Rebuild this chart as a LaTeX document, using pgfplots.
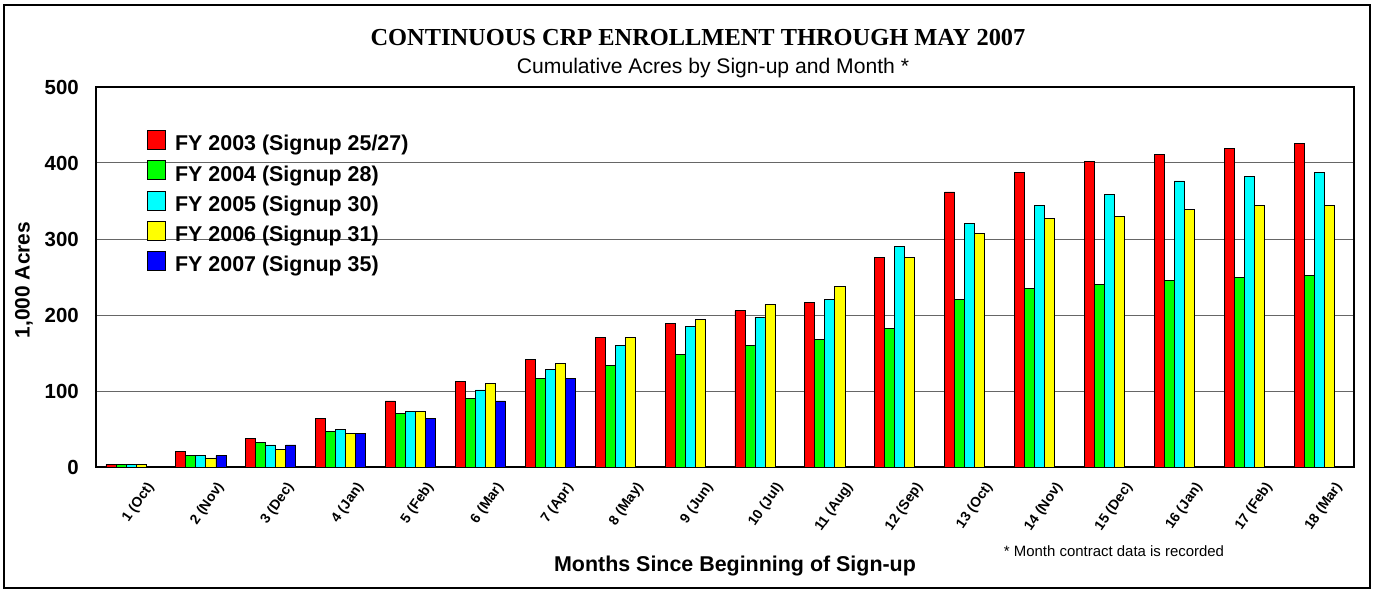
\documentclass[border=0pt]{standalone}
\usepackage{pgfplots}
\pgfplotsset{compat=1.18}
\usepackage{fontspec}
\setmainfont{Liberation Sans}
\newfontfamily\timesfont{Liberation Serif}
\definecolor{cRed}{HTML}{FF0000}
\definecolor{cGreen}{HTML}{00FF00}
\definecolor{cCyan}{HTML}{00FFFF}
\definecolor{cYellow}{HTML}{FFFF00}
\definecolor{cBlue}{HTML}{0000FF}
\begin{document}
\begin{tikzpicture}
\path[use as bounding box] (-96bp,-123bp) rectangle (1280bp,467bp);
\begin{axis}[
  at={(0,0)}, anchor=south west,
  width=1258bp, height=380bp, scale only axis,
  xmin=0.5, xmax=18.5, ymin=0, ymax=500,
  ybar, bar width=0.1433,
  xtick={1,...,18},
  xticklabels={1 (Oct),2 (Nov),3 (Dec),4 (Jan),5 (Feb),6 (Mar),7 (Apr),8 (May),9 (Jun),10 (Jul),11 (Aug),12 (Sep),13 (Oct),14 (Nov),15 (Dec),16 (Jan),17 (Feb),18 (Mar)},
  ytick={0,100,...,500},
  major tick length=0pt,
  /pgf/number format/assume math mode=true,
  ymajorgrids,
  grid style={black!60, line width=1pt},
  axis line style={black, line width=1.2pt},
  xticklabel style={font=\bfseries\fontsize{14}{14}\selectfont, xshift=25.7bp, yshift=-21.4bp, rotate=55, anchor=south east, inner sep=0pt},
  yticklabel style={font=\bfseries\fontsize{20.5}{20.5}\selectfont, anchor=east, inner sep=0pt, xshift=-17bp},
  every axis plot/.append style={draw=black, line width=0.7pt},
  legend style={at={(0.0405,0.886)}, anchor=north west, draw=none, fill=none,
    inner sep=0pt, outer sep=0pt, row sep=4bp, column sep=8bp,
    font=\bfseries\fontsize{21.5}{24}\selectfont,
    nodes={text height=15bp, text depth=4.5bp, inner sep=1bp}},
  legend cell align=left,
  legend image code/.code={\draw[#1, draw=black, line width=0.7pt] (0bp,-4bp) rectangle (18.5bp,15bp);},
]
\addplot[fill=cRed, bar shift=-0.2866] coordinates {
(1,3) (2,21) (3,38) (4,64) (5,87) (6,113) (7,142) (8,171) (9,188.5) (10,205.5) (11,217) (12,275.5) (13,362) (14,388) (15,402.5) (16,411) (17,419.5) (18,425.5)};
\addlegendentry{FY 2003 (Signup 25/27)}
\addplot[fill=cGreen, bar shift=-0.1433] coordinates {
(1,3) (2,15) (3,32) (4,47) (5,70) (6,90) (7,116.5) (8,133.5) (9,148) (10,159.5) (11,168) (12,182) (13,220) (14,234.5) (15,240) (16,246) (17,249) (18,252)};
\addlegendentry{FY 2004 (Signup 28)}
\addplot[fill=cCyan, bar shift=0] coordinates {
(1,3) (2,15) (3,29) (4,49) (5,73) (6,101.5) (7,128) (8,159.5) (9,185.5) (10,197) (11,220) (12,290) (13,321) (14,344.5) (15,359) (16,376.5) (17,382) (18,388)};
\addlegendentry{FY 2005 (Signup 30)}
\addplot[fill=cYellow, bar shift=0.1433] coordinates {
(1,3) (2,12) (3,23) (4,44) (5,73) (6,110) (7,136) (8,171) (9,194) (10,214) (11,238) (12,275.5) (13,307) (14,327) (15,330) (16,339) (17,344.5) (18,344.5)};
\addlegendentry{FY 2006 (Signup 31)}
\addplot[fill=cBlue, bar shift=0.2866] coordinates {
(2,15) (3,29) (4,44) (5,64) (6,87) (7,116.5)};
\addlegendentry{FY 2007 (Signup 35)}
\end{axis}
\draw[line width=1.5pt] (-92bp,-121bp) rectangle (1274bp,462bp);
\node[anchor=base, font=\timesfont\bfseries\fontsize{24.5}{24.5}\selectfont] at (602bp,421bp) {CONTINUOUS CRP ENROLLMENT THROUGH MAY 2007};
\node[anchor=base, font=\fontsize{21.2}{21.2}\selectfont] at (617bp,393bp) {Cumulative Acres by Sign-up and Month *};
\node[rotate=90, font=\bfseries\fontsize{21}{21}\selectfont] at (-72bp,187bp) {1,000 Acres};
\node[font=\bfseries\fontsize{21.5}{21.5}\selectfont] at (639bp,-99bp) {Months Since Beginning of Sign-up};
\node[font=\fontsize{15}{15}\selectfont] at (1018bp,-84bp) {* Month contract data is recorded};
\end{tikzpicture}
\end{document}
